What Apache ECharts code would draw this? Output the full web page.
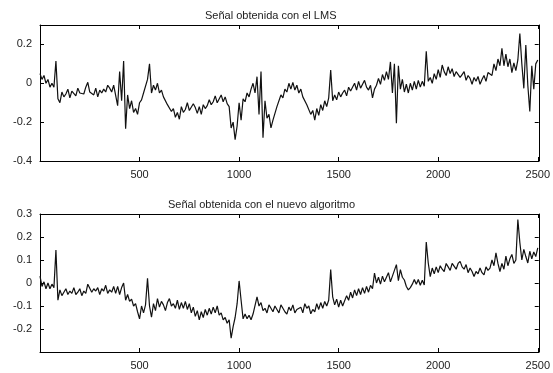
<!DOCTYPE html>
<html>
<head>
<meta charset="utf-8">
<script src="https://cdn.jsdelivr.net/npm/echarts/dist/echarts.min.js"></script>
<style>
  html, body { margin: 0; padding: 0; background: #fff; }
  #main { width: 553px; height: 373px; }
</style>
</head>
<body>
<div id="main"></div>
<script>
// muestras cada 10 puntos, de 0 a 2500
var paso = 10;
var titulos = ['Señal obtenida con el LMS', 'Señal obtenida con el nuevo algoritmo'];
var ticksX = [500, 1000, 1500, 2000, 2500];
var ticksLms = [-0.4, -0.2, 0, 0.2];
var ticksNuevo = [-0.2, -0.1, 0, 0.1, 0.2, 0.3];

var senalLms = [
  0.05, 0.02, 0.04, 0.0, 0.02, -0.02, 0.0, -0.02, 0.115, -0.08,
  -0.1, -0.045, -0.07, -0.055, -0.03, -0.075, -0.04, -0.05, -0.065, -0.025,
  -0.05, -0.04, -0.055, -0.02, 0.005, -0.045, -0.035, -0.06, -0.025, -0.07,
  -0.035, -0.05, -0.03, -0.045, -0.01, -0.025, -0.045, -0.01, 0.0, -0.115,
  0.06, -0.09, 0.115, -0.234, -0.06, -0.13, -0.09, -0.15, -0.13, -0.16,
  -0.1, -0.085, -0.05, -0.04, 0.02, 0.1, -0.05, -0.01, -0.035, 0.0,
  -0.05, -0.035, -0.07, -0.08, -0.11, -0.1, -0.145, -0.13, -0.175, -0.15,
  -0.185, -0.12, -0.15, -0.135, -0.1, -0.14, -0.15, -0.105, -0.125, -0.155,
  -0.12, -0.16, -0.11, -0.13, -0.115, -0.085, -0.11, -0.095, -0.065, -0.1,
  -0.09, -0.06, -0.095, -0.07, -0.105, -0.12, -0.23, -0.2, -0.29, -0.22,
  -0.1, -0.19, -0.08, -0.095, -0.05, -0.07, -0.03, 0.0, -0.05, 0.034,
  -0.16, 0.06, -0.28, -0.09, -0.18, -0.16, -0.23, -0.19, -0.185, -0.12,
  -0.115, -0.06, -0.075, -0.03, -0.045, 0.0, -0.03, 0.005, -0.035, -0.01,
  -0.05, -0.03, -0.07, -0.06, -0.11, -0.1, -0.16, -0.14, -0.19, -0.13,
  -0.165, -0.11, -0.14, -0.09, -0.12, -0.075, 0.068, -0.09, -0.06, -0.085,
  -0.045, -0.07, -0.05, -0.035, -0.065, -0.02, -0.04, -0.03, 0.0, -0.035,
  0.01, -0.025, -0.005, 0.015, -0.02, -0.035, -0.01, -0.075, -0.03, -0.01,
  0.025, -0.005, 0.045, 0.015, 0.06, 0.02, 0.11, -0.05, 0.1, -0.205,
  0.09, -0.03, 0.02, -0.045, -0.005, -0.05, 0.0, -0.035, 0.01, -0.03,
  0.015, -0.02, 0.01, -0.015, 0.165, 0.01, 0.03, 0.0, 0.05, 0.02,
  0.07, 0.03, 0.094, 0.06, 0.04, 0.085, 0.05, 0.075, 0.035, 0.06,
  0.07, 0.03, 0.045, 0.06, 0.015, 0.04, 0.025, -0.005, 0.03, 0.01,
  0.035, -0.005, 0.02, 0.04, 0.01, 0.055, 0.06, 0.04, 0.1, 0.065,
  0.125, 0.09, 0.18, 0.09, 0.15, 0.085, 0.125, 0.055, 0.105, 0.065,
  0.12, 0.256, 0.1, -0.026, 0.197, -0.01, -0.145, 0.09, -0.03, 0.1,
  0.12
];

var senalNuevo = [
  0.03, -0.015, 0.005, -0.025, 0.0, -0.025, -0.005, -0.02, 0.143, -0.075,
  -0.03, -0.055, -0.04, -0.025, -0.05, -0.035, -0.045, -0.02, -0.05, -0.04,
  -0.025, -0.055, -0.035, -0.045, -0.005, -0.01, -0.04, -0.025, -0.035, -0.02,
  -0.05, -0.025, -0.035, -0.01, -0.045, -0.03, -0.04, -0.015, -0.045, -0.015,
  -0.05, -0.02, 0.0, -0.075, -0.05, -0.08, -0.07, -0.1, -0.09, -0.125,
  -0.156, -0.1, -0.13, -0.095, 0.02, -0.1, -0.149, -0.09, -0.12, -0.068,
  -0.105, -0.08, -0.095, -0.12, -0.085, -0.068, -0.1, -0.09, -0.11, -0.075,
  -0.115, -0.085, -0.11, -0.08, -0.115, -0.09, -0.13, -0.105, -0.145, -0.12,
  -0.16, -0.125, -0.15, -0.115, -0.14, -0.11, -0.135, -0.105, -0.13, -0.1,
  -0.14, -0.13, -0.16, -0.15, -0.175, -0.16, -0.24, -0.19, -0.15, -0.09,
  0.009, -0.075, -0.156, -0.135, -0.155, -0.14, -0.16, -0.135, -0.13, -0.06,
  -0.1, -0.085, -0.12, -0.11, -0.13, -0.095, -0.11, -0.125, -0.1, -0.115,
  -0.13, -0.095, -0.11, -0.125, -0.135, -0.105, -0.12, -0.095, -0.13, -0.115,
  -0.12, -0.105, -0.13, -0.09, -0.11, -0.1, -0.134, -0.115, -0.125, -0.09,
  -0.115, -0.085, -0.11, -0.08, -0.1, -0.075, 0.058, -0.06, -0.095, -0.07,
  -0.105, -0.075, -0.1, -0.105, -0.055, -0.075, -0.04, -0.065, -0.03, -0.055,
  -0.025, -0.05, -0.02, -0.045, -0.015, -0.04, -0.01, -0.025, 0.043, 0.0,
  0.025, -0.005, 0.03, 0.005, 0.025, 0.045, 0.005, 0.03, 0.055, 0.08,
  0.01, 0.058, 0.025, 0.013, -0.015, -0.03, -0.02, -0.005, 0.015, -0.005,
  0.015, -0.01, 0.012, -0.009, 0.178, 0.087, 0.028, 0.065, 0.04, 0.07,
  0.045, 0.075, 0.06, 0.05, 0.085, 0.07, 0.055, 0.085, 0.09, 0.06,
  0.085, 0.094, 0.07, 0.06, 0.08, 0.045, 0.065, 0.05, 0.028, 0.05,
  0.04, 0.065, 0.045, 0.035, 0.07, 0.055, 0.065, 0.1, 0.075, 0.131,
  0.085, 0.05, 0.085, 0.06, 0.117, 0.075, 0.105, 0.124, 0.085, 0.1,
  0.276, 0.176, 0.1, 0.146, 0.115, 0.087, 0.138, 0.105, 0.135, 0.115,
  0.153
];

function pares(valores) {
  return valores.map(function (v, i) { return [i * paso, v]; });
}

function etiquetaY(lista) {
  return function (v) {
    for (var i = 0; i < lista.length; i++) {
      if (Math.abs(lista[i] - v) < 1e-6) return String(lista[i]);
    }
    return '';
  };
}

var fuente = { fontFamily: 'Liberation Sans, Arial, sans-serif', fontSize: 11, color: '#222' };
var borde = { show: true, onZero: false, lineStyle: { color: '#000', width: 1 } };
var tick = { show: true, inside: true, length: 4, lineStyle: { color: '#000' } };

function ejeX(grid, abajo) {
  return {
    type: 'value', gridIndex: grid, position: abajo ? 'bottom' : 'top',
    min: 0, max: 2505, interval: 500,
    axisLine: borde, axisTick: tick, splitLine: { show: false },
    axisLabel: abajo ? Object.assign({
      margin: 8,
      formatter: function (v) { return ticksX.indexOf(v) >= 0 ? String(v) : ''; }
    }, fuente) : { show: false }
  };
}

function ejeY(grid, izq, min, max, intervalo, lista) {
  return {
    type: 'value', gridIndex: grid, position: izq ? 'left' : 'right',
    min: min, max: max, interval: intervalo,
    axisLine: borde, axisTick: tick, splitLine: { show: false },
    axisLabel: izq ? Object.assign({ margin: 8, formatter: etiquetaY(lista) }, fuente) : { show: false }
  };
}

var myChart = echarts.init(document.getElementById('main'), null, { renderer: 'canvas' });

var option = {
  animation: false,
  backgroundColor: '#fff',
  title: [
    { text: titulos[0], left: 200, top: 5, textStyle: { fontFamily: fuente.fontFamily, fontSize: 11, fontWeight: 'normal', color: '#222' } },
    { text: titulos[1], left: 163, top: 194, textStyle: { fontFamily: fuente.fontFamily, fontSize: 11, fontWeight: 'normal', color: '#222' } }
  ],
  grid: [
    { left: 40, right: 9, top: 25, height: 136 },
    { left: 40, right: 9, top: 214, height: 138 }
  ],
  xAxis: [ejeX(0, true), ejeX(0, false), ejeX(1, true), ejeX(1, false)],
  yAxis: [
    ejeY(0, true, -0.4, 0.3, 0.2, ticksLms),
    ejeY(0, false, -0.4, 0.3, 0.2, ticksLms),
    ejeY(1, true, -0.3, 0.3, 0.1, ticksNuevo),
    ejeY(1, false, -0.3, 0.3, 0.1, ticksNuevo)
  ],
  series: [
    {
      name: 'LMS', type: 'line', xAxisIndex: 0, yAxisIndex: 0,
      data: pares(senalLms), showSymbol: false,
      lineStyle: { color: '#111', width: 1.2 }
    },
    {
      name: 'Nuevo', type: 'line', xAxisIndex: 2, yAxisIndex: 2,
      data: pares(senalNuevo), showSymbol: false,
      lineStyle: { color: '#111', width: 1.2 }
    }
  ]
};

myChart.setOption(option);
</script>
</body>
</html>
